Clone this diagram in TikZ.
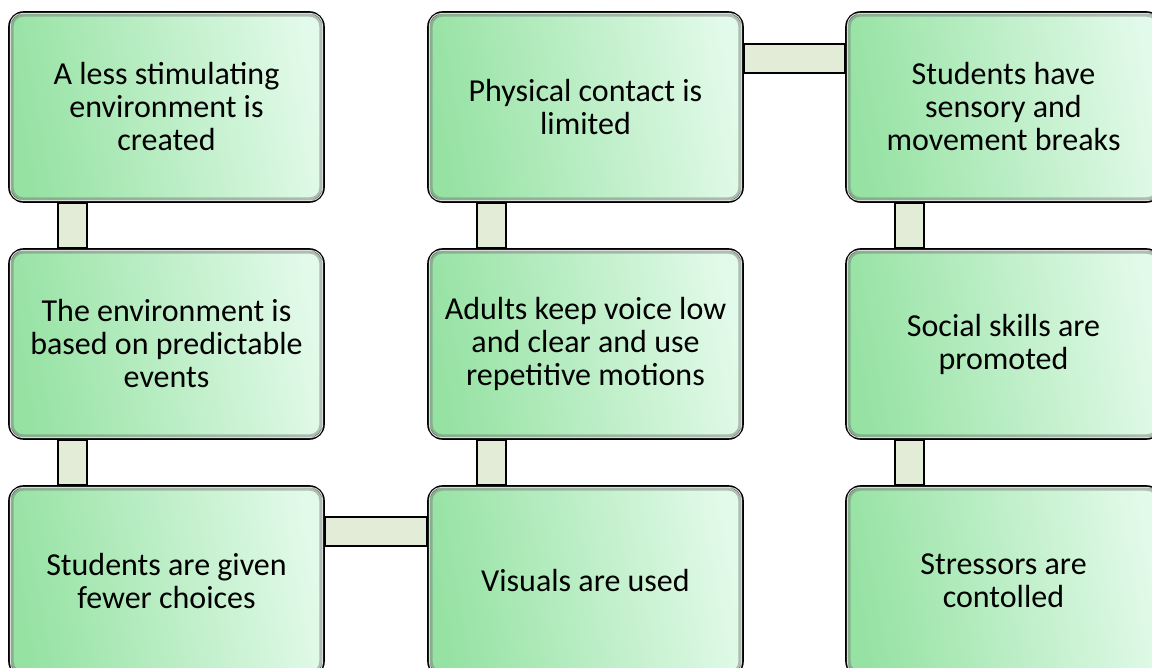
\documentclass[tikz,border=0pt]{standalone}
\usepackage{fontspec}
\setmainfont{Carlito}
\pgfdeclarelayer{background}
\pgfsetlayers{background,main}
\definecolor{boxdark}{RGB}{150,226,163}
\definecolor{boxlight}{RGB}{226,250,233}
\definecolor{connfill}{RGB}{226,236,214}
\tikzset{
  stepbox/.style={shade, left color=boxdark, right color=boxlight, shading angle=100,
    draw=black, line width=2.6pt, rounded corners=14pt,
    minimum width=314pt, minimum height=189pt, inner sep=0pt,
    align=center, font=\fontsize{32}{33}\selectfont},
  bevelA/.style={draw=black!55, line width=3pt, opacity=0.45, rounded corners=11pt},
  bevelB/.style={draw=white, line width=1pt, opacity=0.85, rounded corners=12pt},
  conn/.style={fill=connfill, draw=black, line width=2pt},
}
\begin{document}
\begin{tikzpicture}[x=1pt,y=-1pt]
\useasboundingbox (0,0) rectangle (1152,668);
\clip (0,0) rectangle (1152,668);
\node[stepbox] (a1) at (166.5,107) {A less stimulating\\environment is\\created};
\node[stepbox] (a2) at (166.5,344) {The environment is\\based on predictable\\events};
\node[stepbox] (a3) at (166.5,581) {Students are given\\fewer choices};
\node[stepbox] (b1) at (585.5,107) {Physical contact is\\limited};
\node[stepbox] (b2) at (585.5,344) {Adults keep voice low\\and clear and use\\repetitive motions};
\node[stepbox] (b3) at (585.5,581) {Visuals are used};
\node[stepbox] (c1) at (1003.5,107) {Students have\\sensory and\\movement breaks};
\node[stepbox] (c2) at (1003.5,344) {Social skills are\\promoted};
\node[stepbox] (c3) at (1003.5,581) {Stressors are\\contolled};
\foreach \n in {a1,a2,a3,b1,b2,b3,c1,c2,c3}{
  \draw[bevelA] ([xshift=4pt,yshift=-4pt]\n.north west) rectangle ([xshift=-4pt,yshift=4pt]\n.south east);
  \draw[bevelB] ([xshift=2.2pt,yshift=-2.2pt]\n.north west) rectangle ([xshift=-2.2pt,yshift=2.2pt]\n.south east);
}
\begin{pgfonlayer}{background}
\draw[conn] ([xshift=49.5pt]a1.south west) rectangle ([xshift=78.5pt]a2.north west);
\draw[conn] ([xshift=49.5pt]a2.south west) rectangle ([xshift=78.5pt]a3.north west);
\draw[conn] ([xshift=49.5pt]b1.south west) rectangle ([xshift=78.5pt]b2.north west);
\draw[conn] ([xshift=49.5pt]b2.south west) rectangle ([xshift=78.5pt]b3.north west);
\draw[conn] ([xshift=49.5pt]c1.south west) rectangle ([xshift=78.5pt]c2.north west);
\draw[conn] ([xshift=49.5pt]c2.south west) rectangle ([xshift=78.5pt]c3.north west);
\draw[conn] ([yshift=-32.5pt]b1.north east) rectangle ([yshift=-61.5pt]c1.north west);
\draw[conn] ([yshift=-31.5pt]a3.north east) rectangle ([yshift=-60.5pt]b3.north west);
\end{pgfonlayer}
\end{tikzpicture}
\end{document}
